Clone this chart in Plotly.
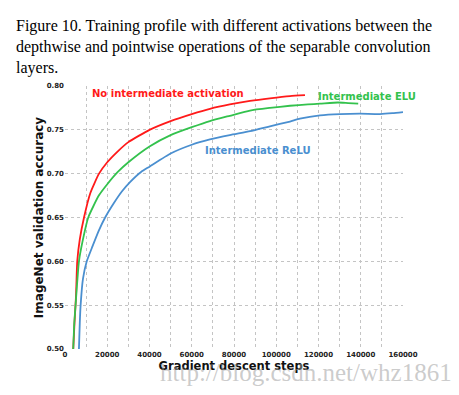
import plotly.graph_objects as go

# ---- data ----
red_steps = [3900, 4500, 5200, 5800, 7000, 9000, 12000, 16100, 20000, 25000, 30000,
             40000, 50000, 60000, 68600, 78000, 87600, 97000, 106500, 113600]
red_acc = [0.500, 0.530, 0.560, 0.600, 0.625, 0.650, 0.678, 0.700, 0.713, 0.7255, 0.736,
           0.750, 0.760, 0.768, 0.774, 0.779, 0.783, 0.786, 0.7885, 0.7895]

green_steps = [3900, 4400, 5000, 6600, 8500, 11000, 16000, 20000, 25000, 30000, 40000,
               50000, 60000, 68600, 78000, 87600, 97000, 106500, 115000, 120700, 129200,
               134000, 138800]
green_acc = [0.500, 0.530, 0.550, 0.600, 0.625, 0.650, 0.675, 0.688, 0.702, 0.713, 0.731,
             0.744, 0.753, 0.760, 0.766, 0.772, 0.775, 0.7775, 0.779, 0.7798, 0.7812,
             0.7805, 0.7798]

blue_steps = [6600, 7000, 7400, 8500, 10300, 13000, 16000, 19000, 23000, 27000, 31000,
              36000, 40000, 50000, 60000, 68600, 78000, 87600, 97000, 106500, 111200,
              120700, 130200, 139600, 149100, 155000, 160000]
blue_acc = [0.500, 0.530, 0.550, 0.580, 0.600, 0.617, 0.635, 0.650, 0.666, 0.680, 0.691,
            0.702, 0.708, 0.723, 0.733, 0.739, 0.744, 0.7485, 0.754, 0.7595, 0.7627,
            0.7665, 0.768, 0.7684, 0.768, 0.769, 0.7703]

series_names = ["No intermediate activation", "Intermediate ELU", "Intermediate ReLU"]
x_tick_vals = [0, 20000, 40000, 60000, 80000, 100000, 120000, 140000, 160000]
y_tick_vals = [0.50, 0.55, 0.60, 0.65, 0.70, 0.75, 0.80]

RED = "#ff1a1a"
GREEN = "#33c24d"
BLUE = "#4a8fd0"

fig = go.Figure()
for xs, ys, c, n in [(red_steps, red_acc, RED, series_names[0]),
                     (green_steps, green_acc, GREEN, series_names[1]),
                     (blue_steps, blue_acc, BLUE, series_names[2])]:
    fig.add_trace(go.Scatter(x=xs, y=ys, mode="lines", name=n,
                             line=dict(color=c, width=1.8, shape="spline", smoothing=0.5)))

label_font = dict(family="DejaVu Sans", size=10, weight="bold")
fig.add_annotation(x=48700, y=0.7918, text=series_names[0], showarrow=False,
                   font=dict(label_font, color=RED))
fig.add_annotation(x=142800, y=0.7884, text=series_names[1], showarrow=False,
                   font=dict(label_font, color=GREEN))
fig.add_annotation(x=91500, y=0.7259, text=series_names[2], showarrow=False,
                   font=dict(label_font, color=BLUE))

# watermark
fig.add_annotation(xref="paper", yref="paper", x=(306 - 65) / 338, y=-(373 - 349) / 263.5,
                   xanchor="center", yanchor="middle",
                   text="http://blog.csdn.net/whz1861", showarrow=False,
                   font=dict(family="Liberation Serif", size=25, color="rgba(160,160,160,0.55)"))

grid = dict(showgrid=True, gridcolor="#c4c4c4", gridwidth=1, griddash="3px,3px")

# the page body adds an 8px margin, so the figure is 8px smaller and shifted
fig.update_layout(
    width=451, height=387,
    margin=dict(l=57, r=56, t=77.5, b=46, autoexpand=False),
    paper_bgcolor="white", plot_bgcolor="white",
    showlegend=False,
    title=dict(text="Figure 10. Training profile with different activations between the<br>"
                    "depthwise and pointwise operations of the separable convolution<br>layers.",
               x=8 / 451, xanchor="left", y=1 - 23 / 387, yanchor="top",
               font=dict(family="Liberation Serif", size=16, color="black")),
    xaxis=dict(range=[0, 160000], tickvals=x_tick_vals, automargin=False,
               ticktext=[str(v) for v in x_tick_vals], ticks="",
               tickfont=dict(family="DejaVu Sans", size=7, weight="bold", color="#222"),
               minor=dict(dtick=10000, tick0=0, showgrid=True, gridcolor="#c4c4c4",
                          gridwidth=1, griddash="3px,3px"),
               zeroline=False, showline=False,
               title=dict(text="Gradient descent steps", standoff=2,
                          font=dict(family="DejaVu Sans", size=11.5, weight="bold", color="#111")),
               **grid),
    yaxis=dict(range=[0.50, 0.80], tickvals=y_tick_vals, automargin=False,
               ticktext=["%.2f" % v for v in y_tick_vals], ticks="",
               tickfont=dict(family="DejaVu Sans", size=7, weight="bold", color="#222"),
               zeroline=False, showline=False,
               title=dict(text="ImageNet validation accuracy", standoff=0,
                          font=dict(family="DejaVu Sans", size=12, weight="bold", color="#111")),
               **grid),
)

fig.write_html("out.html")
